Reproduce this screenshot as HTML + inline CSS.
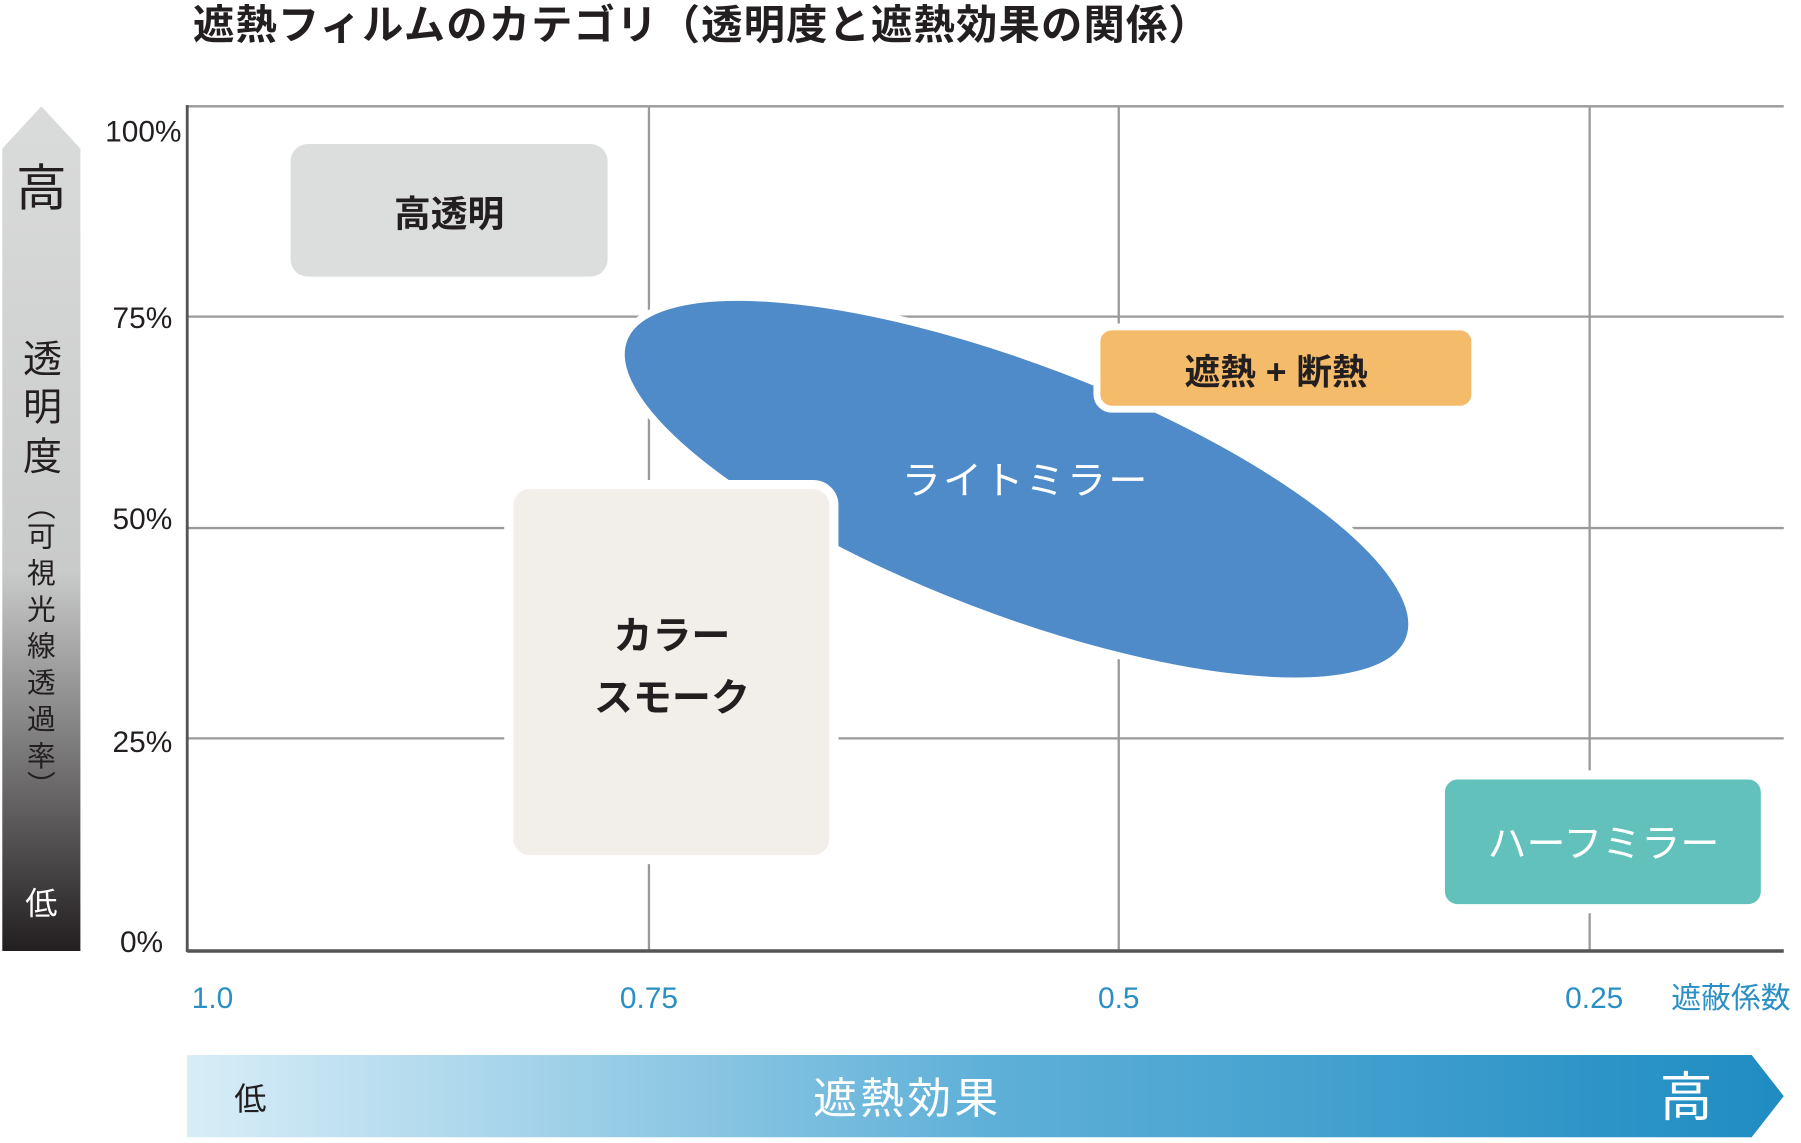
<!DOCTYPE html>
<html><head><meta charset="utf-8"><style>
html,body{margin:0;padding:0;background:#fff}
svg{display:block}
text{font-family:"Liberation Sans","Noto Sans CJK JP",sans-serif}
</style></head><body>
<svg width="1801" height="1143" viewBox="0 0 1568 1000" preserveAspectRatio="none" xmlns="http://www.w3.org/2000/svg">
<defs>
<linearGradient id="gv" x1="0" y1="0" x2="0" y2="1">
<stop offset="0" stop-color="#dadbdb"/><stop offset="0.55" stop-color="#c9caca"/><stop offset="1" stop-color="#231f20"/>
</linearGradient>
<linearGradient id="gh" x1="0" y1="0" x2="1" y2="0">
<stop offset="0" stop-color="#d8edf7"/><stop offset="0.5" stop-color="#5fb0d8"/><stop offset="1" stop-color="#1f8cc2"/>
</linearGradient>
</defs>
<text x="168" y="34" font-size="36" font-weight="bold" fill="#231f20" letter-spacing="1">遮熱フィルムのカテゴリ（透明度と遮熱効果の関係）</text>
<!-- grid -->
<g stroke="#9a9a9a" stroke-width="2">
<line x1="163" y1="93" x2="1553" y2="93"/>
<line x1="163" y1="277" x2="1553" y2="277"/>
<line x1="163" y1="462" x2="1553" y2="462"/>
<line x1="163" y1="646" x2="1553" y2="646"/>
<line x1="565" y1="93" x2="565" y2="832"/>
<line x1="974" y1="93" x2="974" y2="832"/>
<line x1="1384" y1="93" x2="1384" y2="832"/>
</g>
<line x1="163" y1="92" x2="163" y2="833" stroke="#555" stroke-width="2.5"/>
<line x1="163" y1="832" x2="1553" y2="832" stroke="#555" stroke-width="3"/>
<!-- y labels -->
<g font-size="26" fill="#231f20" text-anchor="end">
<text x="158" y="124">100%</text><text x="150" y="287">75%</text><text x="150" y="463">50%</text><text x="150" y="658">25%</text><text x="142" y="833">0%</text>
</g>
<!-- left arrow -->
<polygon points="36,93 70,130 70,832 2,832 2,130" fill="url(#gv)"/>
<text x="36" y="180" font-size="44" fill="#231f20" text-anchor="middle">高</text>
<g font-size="34" fill="#231f20" text-anchor="middle">
<text x="37" y="326">透</text><text x="37" y="368">明</text><text x="37" y="411">度</text>
</g>
<g font-size="25" fill="#231f20" text-anchor="middle">
<text x="36" y="452">︵</text><text x="36" y="478">可</text><text x="36" y="510">視</text><text x="36" y="542">光</text><text x="36" y="574">線</text><text x="36" y="606">透</text><text x="36" y="638">過</text><text x="36" y="670">率</text><text x="36" y="696">︶</text>
</g>
<text x="36" y="800" font-size="28" fill="#fff" text-anchor="middle">低</text>
<!-- x labels -->
<g font-size="26" fill="#2a8fc4" text-anchor="middle">
<text x="185" y="882">1.0</text><text x="565" y="882">0.75</text><text x="974" y="882">0.5</text><text x="1388" y="882">0.25</text><text x="1507" y="882">遮蔽係数</text>
</g>
<!-- bottom arrow -->
<polygon points="163,923 1525,923 1553,959 1525,995 163,995" fill="url(#gh)"/>
<text x="218" y="971" font-size="28" fill="#231f20" text-anchor="middle">低</text>
<text x="790" y="974" font-size="38" fill="#fff" text-anchor="middle" letter-spacing="3">遮熱効果</text>
<text x="1468" y="976" font-size="46" fill="#fff" text-anchor="middle">高</text>
<!-- shapes -->
<rect x="253" y="126" width="276" height="116" rx="15" fill="#dcdedd"/>
<text x="391" y="198" font-size="32" fill="#231f20" text-anchor="middle" font-weight="bold">高透明</text>
<ellipse cx="885" cy="428" rx="366" ry="112" transform="rotate(21 885 428)" fill="#4e8bc8" stroke="#fff" stroke-width="6"/>
<text x="893" y="432" font-size="34" fill="#fff" text-anchor="middle" letter-spacing="2">ライトミラー</text>
<rect x="955" y="286" width="329" height="72" rx="13" fill="#f4bb6a" stroke="#fff" stroke-width="6"/>
<text x="1111" y="336" font-size="31" fill="#231f20" text-anchor="middle" font-weight="bold">遮熱 + 断熱</text>
<rect x="443" y="424" width="283" height="328" rx="18" fill="#f2eeea" stroke="#fff" stroke-width="8"/>
<text x="585" y="568" font-size="34" fill="#231f20" text-anchor="middle" font-weight="bold">カラー</text>
<text x="585" y="622" font-size="34" fill="#231f20" text-anchor="middle" font-weight="bold">スモーク</text>
<rect x="1254" y="678" width="283" height="117" rx="15" fill="#62c1bb" stroke="#fff" stroke-width="8"/>
<text x="1396" y="750" font-size="34" fill="#fff" text-anchor="middle">ハーフミラー</text>
</svg>
</body></html>
